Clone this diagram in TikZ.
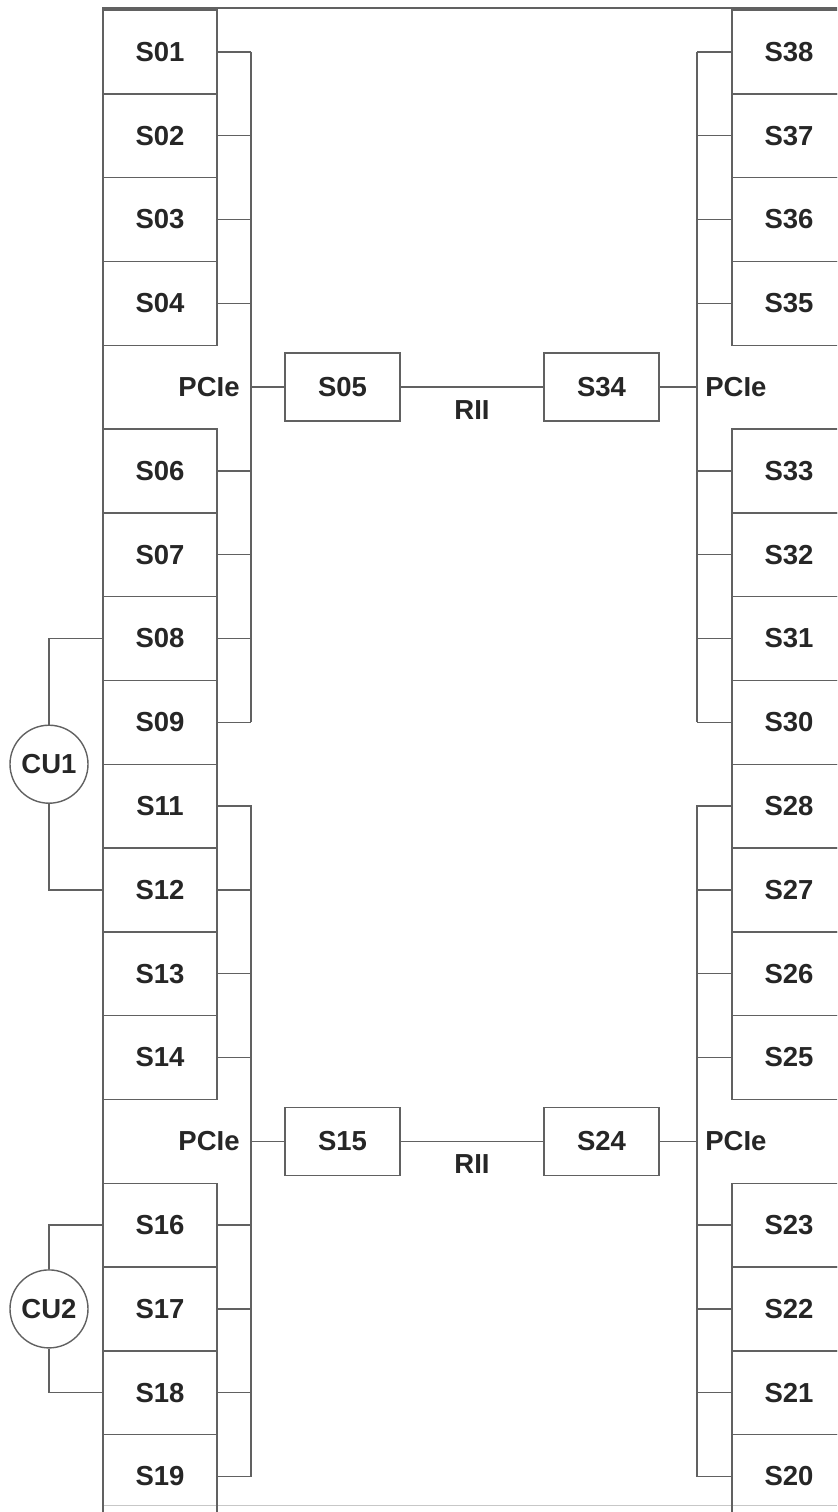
\documentclass[tikz,border=0pt]{standalone}
\usepackage{fontspec}
\setmainfont{Liberation Sans}
\begin{document}
\begin{tikzpicture}[x=0.5pt,y=-0.5pt,
  ln/.style={draw=black!62, line width=0.7pt},
  txt/.style={font=\fontsize{13.75}{15}\selectfont\bfseries, text=black!85},
  sbox/.style={ln, txt, minimum width=57pt, minimum height=41.9pt, inner sep=0pt},
  mbox/.style={ln, txt, minimum width=57.5pt, minimum height=34pt, inner sep=0pt},
  cu/.style={ln, txt, circle, minimum size=39pt, inner sep=0pt},
  lbl/.style={txt, inner sep=0pt}]
\useasboundingbox (0,0) rectangle (837,1512);
\clip (0,0) rectangle (837,1512);
% outer frame
\draw[ln] (103,1530) -- (103,8) -- (860,8);
\draw[draw=black!22, line width=0.5pt] (103,1505) -- (837,1505);
% left column
\foreach \r/\n in {0/S01,1/S02,2/S03,3/S04,5/S06,6/S07,7/S08,8/S09,9/S11,10/S12,11/S13,12/S14,14/S16,15/S17,16/S18,17/S19}
  \node[sbox] (\n) at (160,{51.9+\r*83.8}) {\n};
% right column
\foreach \r/\n in {0/S38,1/S37,2/S36,3/S35,5/S33,6/S32,7/S31,8/S30,9/S28,10/S27,11/S26,12/S25,14/S23,15/S22,16/S21,17/S20}
  \node[sbox] (\n) at (789,{51.9+\r*83.8}) {\n};
% bus coordinates
\coordinate (LT1) at (251,51.9);
\coordinate (LB1) at (251,722.3);
\coordinate (LT2) at (251,805.1);
\coordinate (LB2) at (251,1476.5);
\coordinate (RT1) at (697,51.9);
\coordinate (RB1) at (697,722.3);
\coordinate (RT2) at (697,805.1);
\coordinate (RB2) at (697,1476.5);
\draw[ln] (LT1) -- (LB1);
\draw[ln] (LT2) -- (LB2);
\draw[ln] (RT1) -- (RB1);
\draw[ln] (RT2) -- (RB2);
% stubs
\foreach \n in {S01,S02,S03,S04,S06,S07,S08,S09}
  \draw[ln] (\n.east) -- (\n.east -| LT1);
\foreach \n in {S11,S12,S13,S14,S16,S17,S18,S19}
  \draw[ln] (\n.east) -- (\n.east -| LT2);
\foreach \n in {S38,S37,S36,S35,S33,S32,S31,S30}
  \draw[ln] (\n.west) -- (\n.west -| RT1);
\foreach \n in {S28,S27,S26,S25,S23,S22,S21,S20}
  \draw[ln] (\n.west) -- (\n.west -| RT2);
% middle boxes
\node[mbox] (S05) at (342.5,387.1) {S05};
\node[mbox] (S34) at (601.5,387.1) {S34};
\node[mbox] (S15) at (342.5,1141.3) {S15};
\node[mbox] (S24) at (601.5,1141.3) {S24};
\node[lbl, anchor=east] (PL1) at (240,387.1) {PCIe};
\node[lbl, anchor=west] (PR1) at (705,387.1) {PCIe};
\node[lbl, anchor=east] (PL2) at (240,1141.3) {PCIe};
\node[lbl, anchor=west] (PR2) at (705,1141.3) {PCIe};
\node[lbl] (R1) at (472,410) {RII};
\node[lbl] (R2) at (472,1164) {RII};
\draw[ln] (S05.west) -- (S05.west -| LT1);
\draw[ln] (S05.east) -- (S34.west);
\draw[ln] (S34.east) -- (S34.east -| RT1);
\draw[ln] (S15.west) -- (S15.west -| LT2);
\draw[ln] (S15.east) -- (S24.west);
\draw[ln] (S24.east) -- (S24.east -| RT2);
% control units
\node[cu] (CU1) at (49,764.2) {CU1};
\node[cu] (CU2) at (49,1308.9) {CU2};
\draw[ln] (CU1.north) |- (S08.west);
\draw[ln] (CU1.south) |- (S12.west);
\draw[ln] (CU2.north) |- (S16.west);
\draw[ln] (CU2.south) |- (S18.west);
\end{tikzpicture}
\end{document}
